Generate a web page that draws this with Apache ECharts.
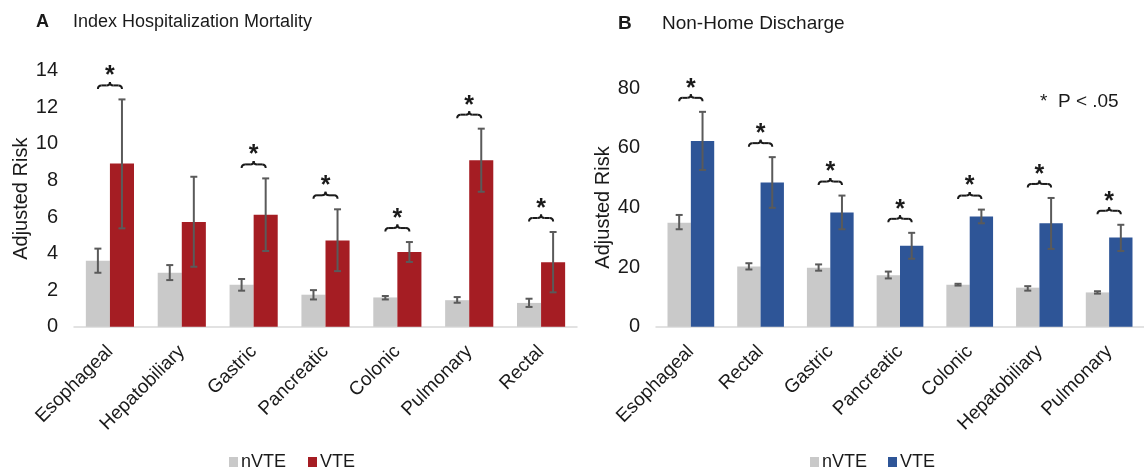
<!DOCTYPE html>
<html>
<head>
<meta charset="utf-8">
<script src="https://cdn.jsdelivr.net/npm/echarts@6/dist/echarts.min.js"></script>
<style>
html,body{margin:0;padding:0;background:#fff;}
#chart{width:1144px;height:471px;}
</style>
</head>
<body>
<div id="chart"></div>
<script>
// ---------- Panel A: Index Hospitalization Mortality ----------
const categoriesA = ['Esophageal','Hepatobiliary','Gastric','Pancreatic','Colonic','Pulmonary','Rectal'];
const nvteA      = [3.6, 2.95, 2.3, 1.75, 1.6, 1.45, 1.3];
const nvteLowA   = [2.95, 2.55, 1.97, 1.49, 1.49, 1.31, 1.08];
const nvteHighA  = [4.27, 3.37, 2.61, 2.0, 1.68, 1.62, 1.53];
const vteA       = [8.93, 5.72, 6.12, 4.72, 4.08, 9.1, 3.52];
const vteLowA    = [5.38, 3.28, 4.14, 3.04, 3.54, 7.38, 1.88];
const vteHighA   = [12.43, 8.2, 8.11, 6.42, 4.63, 10.83, 5.18];
const sigA       = [true, false, true, true, true, true, true];
const yTicksA    = [0, 2, 4, 6, 8, 10, 12, 14];

// ---------- Panel B: Non-Home Discharge ----------
const categoriesB = ['Esophageal','Rectal','Gastric','Pancreatic','Colonic','Hepatobiliary','Pulmonary'];
const nvteB      = [34.9, 20.2, 19.8, 17.3, 14.1, 13.1, 11.5];
const nvteLowB   = [32.7, 19.2, 18.8, 16.2, 13.8, 12.1, 11.1];
const nvteHighB  = [37.5, 21.3, 20.9, 18.5, 14.4, 13.6, 11.9];
const vteB       = [62.3, 48.4, 38.3, 27.2, 37.0, 34.7, 29.9];
const vteLowB    = [52.6, 39.9, 32.7, 22.8, 34.7, 26.1, 25.4];
const vteHighB   = [72.1, 56.9, 44.0, 31.5, 39.3, 43.2, 34.2];
const sigB       = [true, true, true, true, true, true, true];
const yTicksB    = [0, 20, 40, 60, 80];

const FONT = "'Liberation Sans', Arial, Helvetica, sans-serif";
const GRAY = '#c9c9c9', RED = '#a51d23', BLUE = '#2e5597';
const ERR = '#5a5a5a', INK = '#1a1a1a';
const CAT_GAP = 0.33;

function errData(low, high, sign) {
  return low.map((l, i) => [i, l, high[i], sign]);
}
function braceData(high, sig) {
  const out = [];
  high.forEach((h, i) => { if (sig[i]) out.push([i, h]); });
  return out;
}
function renderErr(params, api) {
  const i = api.value(0), sign = api.value(3);
  const band = api.size([1, 0])[0];
  const off = sign * band * (1 - CAT_GAP) / 4;
  const lo = api.coord([i, api.value(1)]);
  const hi = api.coord([i, api.value(2)]);
  const x = lo[0] + off, cap = 3.5;
  const st = { stroke: ERR, lineWidth: 2 };
  return { type: 'group', children: [
    { type: 'line', shape: { x1: x, y1: lo[1], x2: x, y2: hi[1] }, style: st },
    { type: 'line', shape: { x1: x - cap, y1: lo[1], x2: x + cap, y2: lo[1] }, style: st },
    { type: 'line', shape: { x1: x - cap, y1: hi[1], x2: x + cap, y2: hi[1] }, style: st }
  ]};
}
function renderBrace(params, api) {
  const p = api.coord([api.value(0), api.value(1)]);
  const band = api.size([1, 0])[0];
  const w = band * (1 - CAT_GAP) / 2;
  const cx = p[0], cy = p[1] - 14, h = 3.5;
  const x0 = cx - w / 2, x1 = cx + w / 2;
  const st = { stroke: INK, lineWidth: 2, fill: null };
  return { type: 'group', children: [
    { type: 'bezierCurve', shape: { x1: x0, y1: cy + h, cpx1: x0, cpy1: cy, x2: x0 + h, y2: cy }, style: st },
    { type: 'line', shape: { x1: x0 + h, y1: cy, x2: cx - h, y2: cy }, style: st },
    { type: 'bezierCurve', shape: { x1: cx - h, y1: cy, cpx1: cx, cpy1: cy, x2: cx, y2: cy - h }, style: st },
    { type: 'bezierCurve', shape: { x1: cx, y1: cy - h, cpx1: cx, cpy1: cy, x2: cx + h, y2: cy }, style: st },
    { type: 'line', shape: { x1: cx + h, y1: cy, x2: x1 - h, y2: cy }, style: st },
    { type: 'bezierCurve', shape: { x1: x1 - h, y1: cy, cpx1: x1, cpy1: cy, x2: x1, y2: cy + h }, style: st },
    { type: 'text', style: { text: '*', x: cx, y: cy - 9, align: 'center', verticalAlign: 'middle',
        font: 'bold 25px ' + FONT, fill: INK } }
  ]};
}

const xAxisCommon = {
  type: 'category',
  axisLine: { lineStyle: { color: '#d9d9d9', width: 1.5 } },
  axisTick: { show: false },
  axisLabel: { rotate: 45, fontSize: 19, fontFamily: FONT, color: INK, margin: 22, interval: 0 }
};
const yAxisCommon = {
  type: 'value',
  axisLine: { show: false },
  axisTick: { show: false },
  splitLine: { show: false },
  axisLabel: { fontSize: 20, fontFamily: FONT, color: INK, margin: 16 },
  name: 'Adjusted Risk',
  nameLocation: 'middle',
  nameGap: 42,
  nameTextStyle: { fontSize: 20, fontFamily: FONT, color: INK }
};

const option = {
  backgroundColor: '#fff',
  animation: false,
  title: [
    { text: 'A', left: 31, top: 8, textStyle: { fontSize: 18, fontWeight: 'bold', fontFamily: FONT, color: INK } },
    { text: 'Index Hospitalization Mortality', left: 68, top: 8, textStyle: { fontSize: 18, fontWeight: 'normal', fontFamily: FONT, color: INK } },
    { text: 'B', left: 613, top: 9, textStyle: { fontSize: 19, fontWeight: 'bold', fontFamily: FONT, color: INK } },
    { text: 'Non-Home Discharge', left: 657, top: 9, textStyle: { fontSize: 19, fontWeight: 'normal', fontFamily: FONT, color: INK } },
    { text: '*  P < .05', left: 1035, top: 87, textStyle: { fontSize: 19, fontWeight: 'normal', fontFamily: FONT, color: INK } }
  ],
  legend: [
    { left: 224, top: 448, itemWidth: 9, itemHeight: 10, itemGap: 22, icon: 'rect',
      textStyle: { fontSize: 18, fontFamily: FONT, color: INK, padding: [0, 0, 0, -2] },
      data: [{ name: 'nVTE', itemStyle: { color: GRAY } }, { name: 'VTE', itemStyle: { color: RED } }] },
    { left: 805, top: 448, itemWidth: 9, itemHeight: 10, itemGap: 21, icon: 'rect',
      textStyle: { fontSize: 18, fontFamily: FONT, color: INK, padding: [0, 0, 0, -2] },
      data: [{ name: 'nVTE', itemStyle: { color: GRAY } }, { name: 'VTE', itemStyle: { color: BLUE } }] }
  ],
  grid: [
    { left: 74, right: 567, top: 70.7, height: 256 },
    { left: 656, right: -10, top: 88.3, height: 238.4 }
  ],
  xAxis: [
    Object.assign({}, xAxisCommon, { gridIndex: 0, data: categoriesA }),
    Object.assign({}, xAxisCommon, { gridIndex: 1, data: categoriesB })
  ],
  yAxis: [
    Object.assign({}, yAxisCommon, { gridIndex: 0, min: yTicksA[0], max: yTicksA[yTicksA.length - 1], interval: yTicksA[1] - yTicksA[0] }),
    Object.assign({}, yAxisCommon, { gridIndex: 1, min: yTicksB[0], max: yTicksB[yTicksB.length - 1], interval: yTicksB[1] - yTicksB[0] })
  ],
  series: [
    { name: 'nVTE', type: 'bar', xAxisIndex: 0, yAxisIndex: 0, data: nvteA, itemStyle: { color: GRAY }, barGap: '0%', barCategoryGap: '33%' },
    { name: 'VTE', type: 'bar', xAxisIndex: 0, yAxisIndex: 0, data: vteA, itemStyle: { color: RED }, barGap: '0%', barCategoryGap: '33%' },
    { name: 'nVTE', type: 'bar', xAxisIndex: 1, yAxisIndex: 1, data: nvteB, itemStyle: { color: GRAY }, barGap: '0%', barCategoryGap: '33%' },
    { name: 'VTE', type: 'bar', xAxisIndex: 1, yAxisIndex: 1, data: vteB, itemStyle: { color: BLUE }, barGap: '0%', barCategoryGap: '33%' },
    { name: 'errA', type: 'custom', xAxisIndex: 0, yAxisIndex: 0, renderItem: renderErr, z: 5,
      data: errData(nvteLowA, nvteHighA, -1).concat(errData(vteLowA, vteHighA, 1)) },
    { name: 'errB', type: 'custom', xAxisIndex: 1, yAxisIndex: 1, renderItem: renderErr, z: 5,
      data: errData(nvteLowB, nvteHighB, -1).concat(errData(vteLowB, vteHighB, 1)) },
    { name: 'sigA', type: 'custom', xAxisIndex: 0, yAxisIndex: 0, renderItem: renderBrace, z: 6, clip: false,
      data: braceData(vteHighA, sigA) },
    { name: 'sigB', type: 'custom', xAxisIndex: 1, yAxisIndex: 1, renderItem: renderBrace, z: 6, clip: false,
      data: braceData(vteHighB, sigB) }
  ]
};

const chart = echarts.init(document.getElementById('chart'), null, { renderer: 'canvas' });
chart.setOption(option);
</script>
</body>
</html>
